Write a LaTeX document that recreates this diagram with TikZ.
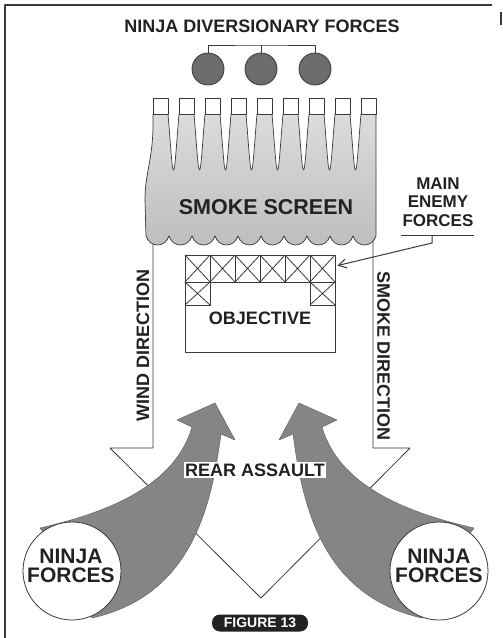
\documentclass[tikz,border=0pt]{standalone}
\usepackage{fontspec}
\setmainfont{Liberation Sans}
\usetikzlibrary{arrows.meta}
\definecolor{ink}{HTML}{222222}
\definecolor{smoketop}{HTML}{DCDCDC}
\definecolor{smokebot}{HTML}{BDBDBD}
\definecolor{agrey}{HTML}{858585}
\definecolor{dgrey}{HTML}{6C6C6C}
\definecolor{edge}{HTML}{3A3A3A}
\begin{document}
\begin{tikzpicture}[x=1pt,y=-1pt,line join=round,
  lbl/.style={font=\bfseries\fontsize{18}{18.5}\selectfont,text=ink,inner sep=0pt,align=center},
  big/.style={font=\bfseries\fontsize{21.5}{22}\selectfont,text=ink,inner sep=0pt,align=center},
  force/.style={font=\bfseries\fontsize{21}{19}\selectfont,text=ink,inner sep=0pt,align=center},
  thin/.style={draw=edge,line width=0.8pt},
  sq/.style={thin,fill=white},
  ball/.style={circle,draw=edge,line width=0.8pt,fill=dgrey,minimum size=32pt,inner sep=0pt},
  ninja/.style={circle,draw=edge,line width=0.8pt,fill=white,minimum size=98pt,inner sep=0pt},
  grarrow/.style={fill=agrey,draw=black!60,line width=0.5pt}]
\useasboundingbox (0,0) rectangle (503,638);
\fill[white] (0,0) rectangle (503,638);
% frame
\draw[edge,line width=1.3pt] (5,638) -- (5,5) -- (492,5);
\draw[edge,line width=1.3pt] (501,12) -- (501,25);
% big direction arrow
\coordinate (sl) at (153,240);
\coordinate (sr) at (373,240);
\draw[thin] (sl) -- (153,448) -- (110,448) -- (261,598) -- (410,448) -- (373,448) -- (sr);
% smoke screen
\shadedraw[top color=smoketop,bottom color=smokebot,draw=edge,line width=0.7pt]
  (153,114) .. controls (154,160) and (145,170) .. (145,200) -- (146,236)
  \foreach \k in {0,...,9} { .. controls ({146+23*\k+4},248) and ({146+23*\k+19},248) .. ({146+23*(\k+1)},236) }
  -- (376,114)
  \foreach \k in {7,6,...,0} { -- ({179+26*\k},114)
     .. controls ({179+26*\k-3},150) and ({173.5+26*\k+1.5},170) .. ({173.5+26*\k},170)
     .. controls ({173.5+26*\k-1.5},170) and ({168+26*\k+3},150) .. ({168+26*\k},114) }
  -- cycle;
\foreach \k in {0,...,8} { \draw[sq] ({153+26*\k},98) rectangle ({168+26*\k},114); }
\node[big] (smk) at (266,207) {SMOKE SCREEN};
% diversionary forces
\node[ball] (c1) at (208,69) {};
\node[ball] (c2) at (261,69) {};
\node[ball] (c3) at (315,69) {};
\coordinate (bar) at (261,45);
\draw[thin] (c1.north) |- (bar) -| (c3.north);
\draw[thin] (c2.north) -- (c2.north |- bar);
\node[lbl] (title) at (262,26) {NINJA DIVERSIONARY FORCES};
% objective
\node[draw=edge,line width=0.8pt,minimum width=150pt,minimum height=97pt,inner sep=0pt] (obj) at (260,303.5) {};
\foreach \i in {0,...,5} {
  \draw[thin] ({185+25*\i},255) rectangle ({210+25*\i},282);
  \draw[thin] ({185+25*\i},255) -- ({210+25*\i},282) ({185+25*\i},282) -- ({210+25*\i},255);
}
\foreach \x in {185,310} {
  \draw[thin] (\x,282) rectangle ({\x+25},305);
  \draw[thin] (\x,282) -- ({\x+25},305) (\x,305) -- ({\x+25},282);
}
\node[lbl] (objl) at (260,318) {OBJECTIVE};
% main enemy forces
\node[lbl,font=\bfseries\fontsize{17}{18.5}\selectfont] (enemy) at (438,202) {MAIN\\ENEMY\\FORCES};
\coordinate (ula) at (401,235);
\coordinate (ulb) at (474,235);
\coordinate (ulm) at (432,235);
\coordinate (tgt) at ([shift={(2,11)}]obj.north east);
\draw[thin] (ula) -- (ulb);
\draw[thin,line width=1pt,-{Straight Barb[length=8pt,width=9pt]}] (ulm) -- (432,243) -- (tgt);
% direction labels
\node[lbl,rotate=90] (wind) at (143,345) {WIND DIRECTION};
\node[lbl,rotate=-90] (smoke) at (383.5,356) {SMOKE DIRECTION};
% grey assault arrows
\begin{scope}
\path[grarrow] (215,403) -- (235,440) -- (221,434)
  .. controls (212,500) and (195,595) .. (92,618) -- (72,571) -- (40,528)
  .. controls (110,512) and (175,485) .. (192,427) -- (177,420) -- cycle;
\end{scope}
\begin{scope}[shift={(514,0)},xscale=-1]
\path[grarrow] (215,403) -- (235,440) -- (221,434)
  .. controls (212,500) and (195,595) .. (92,618) -- (72,571) -- (40,528)
  .. controls (110,512) and (175,485) .. (192,427) -- (177,420) -- cycle;
\end{scope}
\node[ninja] (nl) at (72,571) {};
\node[ninja] (nr) at (439,571) {};
\node[force] at (71,566) {NINJA\\FORCES};
\node[force] at (439,566) {NINJA\\FORCES};
\node[lbl,fill=white,inner sep=1.5pt] (rear) at (255,470) {REAR ASSAULT};
% figure label
\node[fill=ink,rounded corners=8pt,minimum width=96pt,minimum height=17pt,inner sep=0pt,text=white,font=\bfseries\fontsize{14}{14}\selectfont] (fig) at (260,623) {FIGURE 13};
\end{tikzpicture}
\end{document}
